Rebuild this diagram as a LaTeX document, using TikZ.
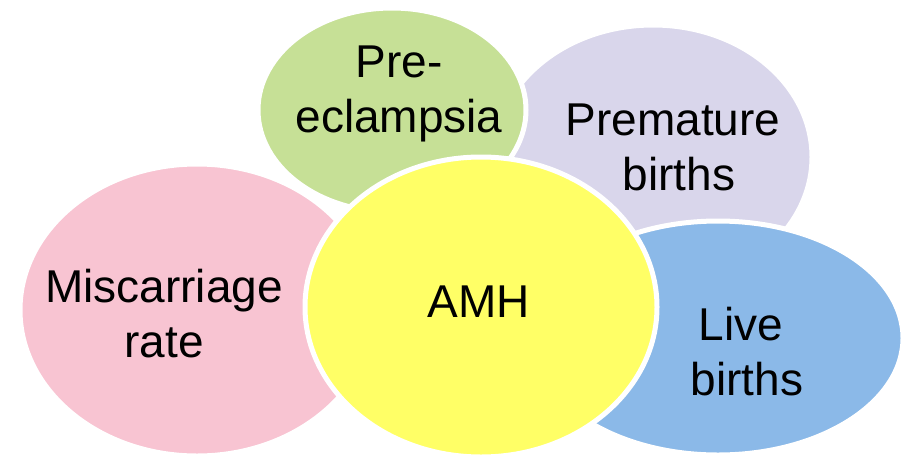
\documentclass[tikz,border=0pt]{standalone}
\usepackage{fontspec}
\setmainfont{Liberation Sans}
\usetikzlibrary{shapes.geometric}
\definecolor{cpink}{RGB}{248,196,210}
\definecolor{cgreen}{RGB}{198,224,150}
\definecolor{clav}{RGB}{217,214,235}
\definecolor{cblue}{RGB}{139,185,232}
\definecolor{cyel}{RGB}{255,255,102}
\begin{document}
\begin{tikzpicture}[x=1pt,y=-1pt,
  blob/.style={ellipse,draw=white,line width=5pt,inner sep=0pt,outer sep=0pt},
  lbl/.style={anchor=base,inner sep=0pt,font=\fontsize{46}{55}\selectfont}]
\useasboundingbox[fill=white] (0,0) rectangle (905,459);
\node[blob,fill=cpink,minimum width=354pt,minimum height=292pt] (pink) at (197,310) {};
\node[blob,fill=clav,minimum width=318pt,minimum height=264pt] (lav) at (653,157) {};
\node[blob,fill=cgreen,minimum width=268pt,minimum height=204pt] (green) at (392,110) {};
\node[blob,fill=cblue,minimum width=370pt,minimum height=234pt] (blue) at (718,338) {};
\node[blob,fill=cyel,minimum width=352pt,minimum height=300pt] (amh) at (481,307) {};
\node[lbl] (t1a) at (164,302) {Miscarriage};
\node[lbl] (t1b) at (164,357) {rate};
\node[lbl] (t2a) at (399,77) {Pre-};
\node[lbl] (t2b) at (399,132) {eclampsia};
\node[lbl] (t3a) at (673,135) {Premature};
\node[lbl] (t3b) at (679,190) {births};
\node[lbl] (t4a) at (741,340) {Live};
\node[lbl] (t4b) at (747,395) {births};
\node[lbl] (t5) at (479,317) {AMH};
\end{tikzpicture}
\end{document}
